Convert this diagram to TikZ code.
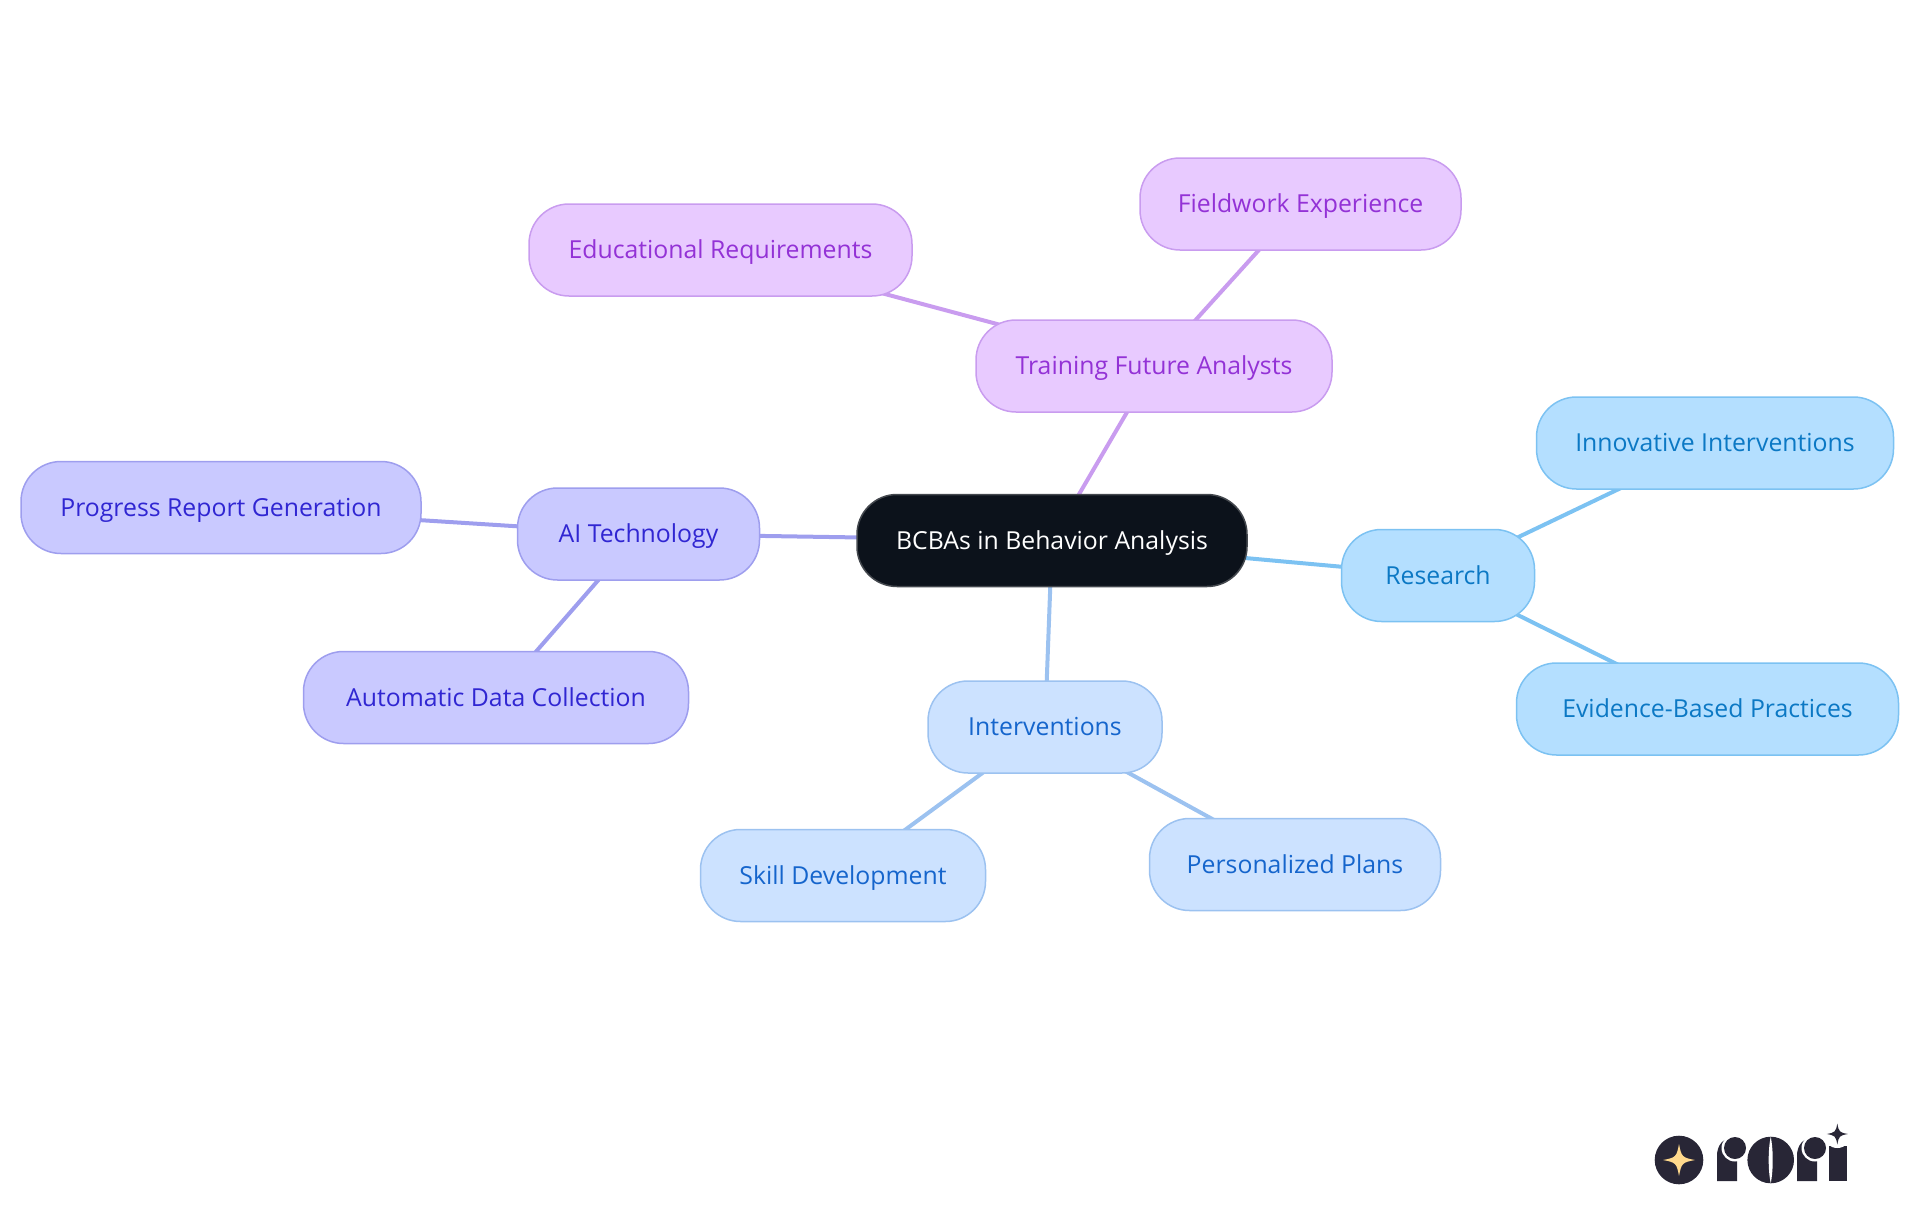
\documentclass[tikz,border=0pt]{standalone}
\usepackage{fontspec}
\setmainfont{Open Sans}
\usetikzlibrary{backgrounds}

\definecolor{rootfill}{HTML}{0C121B}
\definecolor{rootline}{HTML}{44484E}
\definecolor{trainfill}{HTML}{E8CAFF}
\definecolor{trainline}{HTML}{C99CEF}
\definecolor{traintext}{HTML}{9332D6}
\definecolor{resfill}{HTML}{B4DFFF}
\definecolor{resline}{HTML}{7CC2F2}
\definecolor{restext}{HTML}{0B78C4}
\definecolor{intfill}{HTML}{CCE2FF}
\definecolor{intline}{HTML}{9CC2F0}
\definecolor{inttext}{HTML}{1565CC}
\definecolor{aifill}{HTML}{C9C9FF}
\definecolor{ailine}{HTML}{9E9EEE}
\definecolor{aitext}{HTML}{3026D2}
\definecolor{logodark}{HTML}{282636}
\definecolor{logostar}{HTML}{FFD98C}

\tikzset{
    pill/.style={rectangle, rounded corners=40pt, minimum height=92pt, line width=1.5pt,
        font=\fontsize{24.8}{28}\selectfont, inner sep=0pt, text height=21pt, text depth=4pt},
    rootpill/.style={pill, draw=rootline, fill=rootfill, text=white},
    trainpill/.style={pill, draw=trainline, fill=trainfill, text=traintext},
    respill/.style={pill, draw=resline, fill=resfill, text=restext},
    intpill/.style={pill, draw=intline, fill=intfill, text=inttext},
    aipill/.style={pill, draw=ailine, fill=aifill, text=aitext},
    edge/.style={line width=4pt}
}

% four pointed star: x, y, half span, colour
\newcommand{\sparkle}[4]{
    \fill[#4] (#1-#3,#2) .. controls (#1-0.2*#3,#2-0.15*#3) and (#1-0.15*#3,#2-0.2*#3) .. (#1,#2-#3)
        .. controls (#1+0.15*#3,#2-0.2*#3) and (#1+0.2*#3,#2-0.15*#3) .. (#1+#3,#2)
        .. controls (#1+0.2*#3,#2+0.15*#3) and (#1+0.15*#3,#2+0.2*#3) .. (#1,#2+#3)
        .. controls (#1-0.15*#3,#2+0.2*#3) and (#1-0.2*#3,#2+0.15*#3) .. (#1-#3,#2) -- cycle;
}

\begin{document}
\begin{tikzpicture}[x=1pt, y=-1pt]
    \useasboundingbox (0,0) rectangle (1920,1215);

    % Root
    \node[rootpill, minimum width=390pt] (root) at (1052,540.5) {BCBAs in Behavior Analysis};

    % Training branch
    \node[trainpill, minimum width=356pt] (train) at (1154,366) {Training Future Analysts};
    \node[trainpill, minimum width=321pt] (field) at (1300.5,204) {Fieldwork Experience};
    \node[trainpill, minimum width=383pt] (edu) at (720.5,250) {Educational Requirements};

    % Research branch
    \node[respill, minimum width=193pt] (res) at (1438,575.5) {Research};
    \node[respill, minimum width=357pt] (innov) at (1715,443) {Innovative Interventions};
    \node[respill, minimum width=382pt] (evid) at (1707.5,709) {Evidence-Based Practices};

    % Interventions branch
    \node[intpill, minimum width=234pt] (inter) at (1045,727) {Interventions};
    \node[intpill, minimum width=285pt] (skill) at (843,875.5) {Skill Development};
    \node[intpill, minimum width=291pt] (plans) at (1295,864.5) {Personalized Plans};

    % AI branch
    \node[aipill, minimum width=242pt] (ai) at (638.5,534) {AI Technology};
    \node[aipill, minimum width=400pt] (report) at (221,507.5) {Progress Report Generation};
    \node[aipill, minimum width=385pt] (data) at (496,697.5) {Automatic Data Collection};

    % Connectors behind the nodes
    \begin{scope}[on background layer]
        \draw[edge, trainline] (root.center) -- (train.center);
        \draw[edge, trainline] (train.center) -- (field.center);
        \draw[edge, trainline] (train.center) -- (edu.center);
        \draw[edge, resline] (root.center) -- (res.center);
        \draw[edge, resline] (res.center) -- (innov.center);
        \draw[edge, resline] (res.center) -- (evid.center);
        \draw[edge, intline] (root.center) -- (inter.center);
        \draw[edge, intline] (inter.center) -- (skill.center);
        \draw[edge, intline] (inter.center) -- (plans.center);
        \draw[edge, ailine] (root.center) -- (ai.center);
        \draw[edge, ailine] (ai.center) -- (report.center);
        \draw[edge, ailine] (ai.center) -- (data.center);
    \end{scope}

    % Logo
    \fill[logodark] (1679,1160) circle (24.3);
    \sparkle{1679}{1160}{16}{logostar}

    \fill[logodark] (1717,1181) -- (1717,1156) .. controls (1717,1146) and (1722,1139) .. (1731,1138) -- (1737,1138) -- (1737,1181) -- cycle;
    \fill[white] (1735,1148) circle (13.5);
    \fill[logodark] (1735,1148) circle (11);

    \fill[logodark] (1770.7,1160) circle (23.3);
    \fill[white] (1770.7,1136.5) .. controls (1768,1150) and (1768,1170) .. (1770.7,1183.5)
        .. controls (1773.4,1170) and (1773.4,1150) .. (1770.7,1136.5) -- cycle;

    \fill[logodark] (1797,1181) -- (1797,1156) .. controls (1797,1146) and (1802,1139) .. (1811,1138) -- (1817,1138) -- (1817,1181) -- cycle;
    \fill[white] (1815,1148) circle (13.5);
    \fill[logodark] (1815,1148) circle (11);

    \fill[logodark] (1829,1146) rectangle (1846.7,1181);
    \fill[white] (1837.3,1134) circle (14);
    \sparkle{1837.3}{1134}{10.5}{logodark}
\end{tikzpicture}
\end{document}
